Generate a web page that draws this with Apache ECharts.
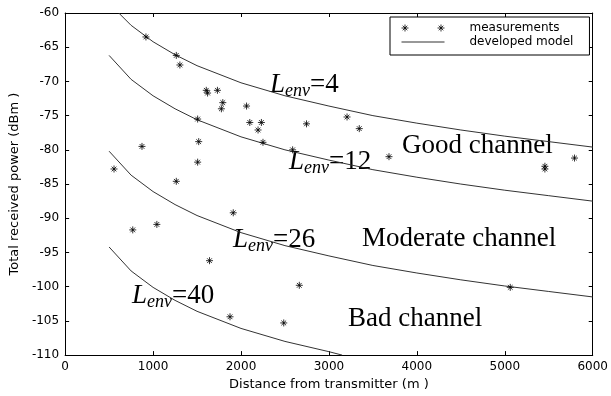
<!DOCTYPE html>
<html><head><meta charset="utf-8">
<script src="https://cdn.jsdelivr.net/npm/echarts/dist/echarts.min.js"></script>
<style>html,body{margin:0;padding:0;background:#fff}#c{width:611px;height:396px}</style>
</head><body><div id="c"></div>
<script>
// Measurements (distance in m, received power in dBm)
const measX = [919,1264,1305,1605,1620,1732,1793,1777,2063,1507,2100,2232,2194,1519,2250,2587,2745,3206,3345,3683,5456,5456,5793,1507,874,556,1264,769,1043,1912,1642,2663,1875,2486,5062];
const measY = [-63.5,-66.2,-67.6,-71.3,-71.7,-71.3,-73.1,-74.0,-73.6,-75.5,-76.0,-76.0,-77.1,-78.8,-78.9,-80.0,-76.2,-75.2,-76.9,-81.0,-82.4,-82.8,-81.2,-81.8,-79.5,-82.8,-84.6,-91.7,-90.9,-89.2,-96.2,-99.8,-104.4,-105.3,-100.1];

// Developed model curves
const modelX4  = [610,750,1000,1250,1500,2000,2500,3000,3500,4000,4500,5000,5500,6000];
const modelL4  = [-60.0,-61.8,-64.2,-66.1,-67.7,-70.2,-72.1,-73.6,-75.0,-76.1,-77.1,-78.0,-78.8,-79.6];
const modelX   = [500,750,1000,1250,1500,2000,2500,3000,3500,4000,4500,5000,5500,6000];
const modelL12 = [-66.2,-69.7,-72.1,-74.0,-75.6,-78.1,-80.0,-81.5,-82.9,-84.0,-85.0,-85.9,-86.7,-87.5];
const modelL26 = [-80.2,-83.7,-86.1,-88.0,-89.6,-92.1,-94.0,-95.5,-96.9,-98.0,-99.0,-99.9,-100.7,-101.5];
const modelX40 = [500,750,1000,1250,1500,2000,2500,3000,3150];
const modelL40 = [-94.2,-97.7,-100.1,-102.0,-103.6,-106.1,-108.0,-109.5,-110.0];

const xTicks = {min:0, max:6000, interval:1000};
const yTicks = {min:-110, max:-60, interval:5};

const legendNames = ['measurements','developed model'];
const xName = 'Distance from transmitter (m )';
const yName = 'Total received power (dBm )';

const envLabels = [
  {num:'4',  x:270, base:94},
  {num:'12', x:289, base:171},
  {num:'26', x:233, base:249},
  {num:'40', x:132, base:305}
];
const regionLabels = [
  {text:'Good channel', x:402, base:155},
  {text:'Moderate channel', x:362, base:248},
  {text:'Bad channel', x:348, base:328}
];

const chart = echarts.init(document.getElementById('c'), null, {renderer:'canvas'});
const pairs = (xs, ys) => xs.map((x,i)=>[x, ys[i]]);

const star = 'path://M0,4 L8,4 M4,0 L4,8 M1.3,1.3 L6.7,6.7 M1.3,6.7 L6.7,1.3';
const star2 = 'path://M0,3.5 L7,3.5 M3.5,0 L3.5,7 M1.2,1.2 L5.8,5.8 M1.2,5.8 L5.8,1.2 M36,3.5 L43,3.5 M39.5,0 L39.5,7 M37.2,1.2 L41.8,5.8 M37.2,5.8 L41.8,1.2';
const lineIcon = 'path://M0,0 L43,0 L43,1 L0,1 Z';

const mc = document.createElement('canvas').getContext('2d');
function tw(font, t){ mc.font = font; return mc.measureText(t).width; }

const SERIF = '"Liberation Serif","Times New Roman",serif';
const graphics = [];
const BIG = 27, SUB = 18;
envLabels.forEach(l => {
  const fL = 'italic ' + BIG + 'px ' + SERIF;
  const fS = 'italic ' + SUB + 'px ' + SERIF;
  const fN = BIG + 'px ' + SERIF;
  const wL = tw(fL, 'L');
  const wS = tw(fS, 'env');
  graphics.push({type:'text', x:l.x, y:l.base - 0.3375*BIG, silent:true,
    style:{text:'L', font:fL, fill:'#000', verticalAlign:'middle', align:'left'}});
  graphics.push({type:'text', x:l.x + wL, y:l.base + 3 - 0.3375*SUB, silent:true,
    style:{text:'env', font:fS, fill:'#000', verticalAlign:'middle', align:'left'}});
  graphics.push({type:'text', x:l.x + wL + wS, y:l.base - 0.3375*BIG, silent:true,
    style:{text:'=' + l.num, font:fN, fill:'#000', verticalAlign:'middle', align:'left'}});
});
regionLabels.forEach(r => {
  graphics.push({type:'text', x:r.x, y:r.base - 0.3375*BIG, silent:true,
    style:{text:r.text, font:BIG + 'px ' + SERIF, fill:'#000', verticalAlign:'middle', align:'left'}});
});

const SANS = 'DejaVu Sans';
const axisCommon = {
  axisLine:{show:true, onZero:false, lineStyle:{color:'#000', width:1}},
  axisTick:{show:true, inside:true, length:4, lineStyle:{color:'#000'}},
  splitLine:{show:false}
};
const lineSeries = (name, data) => ({
  type:'line', name:name, data:data, symbol:'none', showSymbol:false, silent:true,
  lineStyle:{color:'#333', width:1}, itemStyle:{color:'#333'}, z:2
});

chart.setOption({
  animation:false,
  backgroundColor:'#fff',
  grid:{left:63, right:14, top:13, bottom:39, containLabel:false},
  legend:{
    orient:'vertical', left:390, top:17,
    padding:[4,16,6,11], itemGap:0, itemWidth:43, itemHeight:7,
    backgroundColor:'#fff', borderColor:'#000', borderWidth:1,
    selectedMode:false, symbolKeepAspect:true,
    textStyle:{fontFamily:SANS, fontSize:12, color:'#000', lineHeight:14, padding:[0,0,0,20]},
    data:[
      {name:legendNames[0], icon:star2, itemStyle:{color:'rgba(0,0,0,0)', borderColor:'#000', borderWidth:1}},
      {name:legendNames[1], icon:lineIcon, itemStyle:{color:'#333', borderWidth:0}}
    ]
  },
  xAxis:[
    Object.assign({type:'value', position:'bottom', min:xTicks.min, max:xTicks.max, interval:xTicks.interval,
      axisLabel:{color:'#000', fontFamily:SANS, fontSize:12, margin:6, formatter:v=>String(v)},
      name:xName, nameLocation:'middle', nameGap:20,
      nameTextStyle:{color:'#000', fontFamily:SANS, fontSize:13}}, axisCommon),
    Object.assign({type:'value', position:'top', min:xTicks.min, max:xTicks.max, interval:xTicks.interval,
      axisLabel:{show:false}}, axisCommon)
  ],
  yAxis:[
    Object.assign({type:'value', position:'left', min:yTicks.min, max:yTicks.max, interval:yTicks.interval,
      axisLabel:{color:'#000', fontFamily:SANS, fontSize:12, margin:6, formatter:v=>String(v)},
      name:yName, nameLocation:'middle', nameGap:41,
      nameTextStyle:{color:'#000', fontFamily:SANS, fontSize:13}}, axisCommon),
    Object.assign({type:'value', position:'right', min:yTicks.min, max:yTicks.max, interval:yTicks.interval,
      axisLabel:{show:false}}, axisCommon)
  ],
  series:[
    {type:'scatter', name:legendNames[0], data:pairs(measX, measY), symbol:star, symbolSize:7, silent:true,
      itemStyle:{color:'rgba(0,0,0,0)', borderColor:'#000', borderWidth:1}, z:3},
    lineSeries(legendNames[1], pairs(modelX4, modelL4)),
    lineSeries(legendNames[1], pairs(modelX, modelL12)),
    lineSeries(legendNames[1], pairs(modelX, modelL26)),
    lineSeries(legendNames[1], pairs(modelX40, modelL40))
  ],
  graphic:graphics
});
</script>
</body></html>
